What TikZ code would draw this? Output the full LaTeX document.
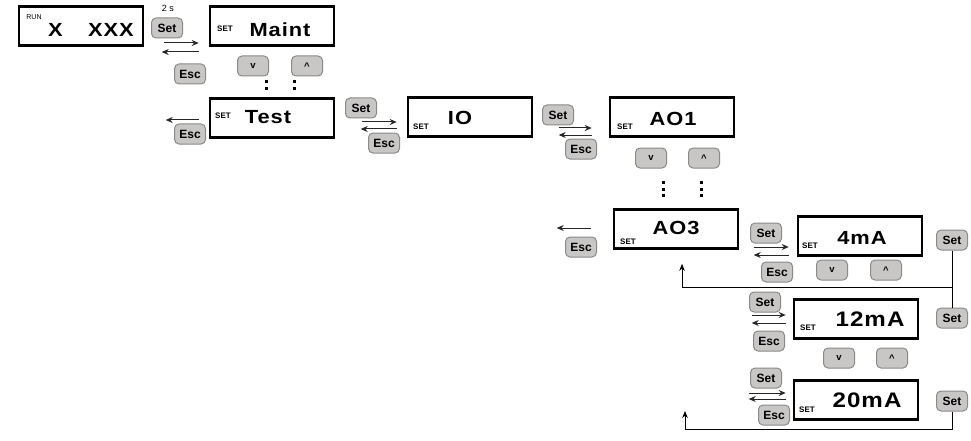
\documentclass[tikz,border=0pt]{standalone}
\usepackage{fontspec}
\setmainfont{Liberation Sans}
\newfontfamily\lcdfont[LetterSpace=5, FakeStretch=1.15]{Liberation Sans}
\usetikzlibrary{arrows.meta}
\definecolor{btnfill}{RGB}{201,198,198}
\definecolor{btnline}{RGB}{140,137,137}
\tikzset{
  lcd/.style={draw, line width=2.6pt, minimum width=124pt, minimum height=39pt, inner sep=0pt},
  lcdtxt/.style={font=\lcdfont\bfseries\fontsize{19}{19}\selectfont, inner sep=0pt},
  lcdbig/.style={font=\lcdfont\bfseries\fontsize{21}{21}\selectfont, inner sep=0pt},
  setlbl/.style={font=\bfseries\fontsize{8}{8}\selectfont, inner sep=0pt},
  btn/.style={draw=btnline, fill=btnfill, rounded corners=4.5pt, line width=1pt,
    minimum width=31pt, minimum height=20pt, inner sep=0pt, font=\bfseries\fontsize{12}{12}\selectfont},
  arr/.style={btn, font=\bfseries\fontsize{9.5}{9.5}\selectfont},
  mv/.style={-{Stealth[length=7pt,width=6pt]}, line width=1pt, black!85},
  ret/.style={-{Stealth[length=7pt,width=5.5pt]}, line width=0.8pt},
  dotcol/.style={line width=3pt, dash pattern=on 3pt off 3.5pt},
}
\begin{document}
\begin{tikzpicture}[x=1pt, y=-1pt]
  \useasboundingbox (0,0) rectangle (971,441);
  % displays
  \node[lcd] (run)   at (81,26)  {};
  \node[lcd] (maint) at (272,26) {};
  \node[lcd] (test)  at (272,118) {};
  \node[lcd] (io)    at (470,117) {};
  \node[lcd] (ao1)   at (672,117) {};
  \node[lcd] (ao3)   at (676,229) {};
  \node[lcd] (ma4)   at (860,236) {};
  \node[lcd] (ma12)  at (856,319) {};
  \node[lcd] (ma20)  at (856,400) {};
  % display texts
  \node[font=\fontsize{7}{7}\selectfont, inner sep=0pt] (runlbl) at (34,17) {RUN};
  \node[lcdtxt] (runx)   at (55.5,30) {X};
  \node[lcdtxt] (runxxx) at (111,30)  {XXX};
  \node[setlbl] (maintlbl) at (225,29)  {SET};
  \node[lcdtxt] (mainttxt) at (280,30)  {Maint};
  \node[setlbl] (testlbl)  at (223,116) {SET};
  \node[lcdtxt] (testtxt)  at (268,117) {Test};
  \node[setlbl] (iolbl)    at (421,127) {SET};
  \node[lcdtxt] (iotxt)    at (460,118) {IO};
  \node[setlbl] (ao1lbl)   at (625,127) {SET};
  \node[lcdtxt] (ao1txt)   at (673,119) {AO1};
  \node[setlbl] (ao3lbl)   at (628,242) {SET};
  \node[lcdtxt] (ao3txt)   at (676,228) {AO3};
  \node[setlbl] (ma4lbl)   at (810,246) {SET};
  \node[lcdtxt] (ma4txt)   at (862,238) {4mA};
  \node[setlbl] (ma12lbl)  at (808,328) {SET};
  \node[lcdbig] (ma12txt)  at (870,319) {12mA};
  \node[setlbl] (ma20lbl)  at (807,410) {SET};
  \node[lcdbig] (ma20txt)  at (867,400) {20mA};
  % keys
  \node[font=\fontsize{9}{9}\selectfont, inner sep=0pt] (hold) at (168,8) {2 s};
  \node[btn] (set0) at (167,28)  {Set};
  \node[btn] (esc0) at (190,74)  {Esc};
  \node[arr] (dn0)  at (253,66)  {v};
  \node[arr] (up0)  at (307,66)  {\char"5E};
  \node[btn] (esc1) at (190,134) {Esc};
  \node[btn] (set1) at (361,108) {Set};
  \node[btn] (esc2) at (384,143) {Esc};
  \node[btn] (set2) at (558,115) {Set};
  \node[btn] (esc3) at (581,149) {Esc};
  \node[arr] (dn1)  at (651,158) {v};
  \node[arr] (up1)  at (704,158) {\char"5E};
  \node[btn] (esc4) at (581,247) {Esc};
  \node[btn] (set3) at (766,233) {Set};
  \node[btn] (esc5) at (777,272) {Esc};
  \node[arr] (dn2)  at (832,270) {v};
  \node[arr] (up2)  at (886,270) {\char"5E};
  \node[btn] (set4) at (952,240) {Set};
  \node[btn] (set5) at (765,302) {Set};
  \node[btn] (esc6) at (769,341) {Esc};
  \node[btn] (set6) at (952,318) {Set};
  \node[arr] (dn3)  at (839,358) {v};
  \node[arr] (up3)  at (892,358) {\char"5E};
  \node[btn] (set7) at (766,378) {Set};
  \node[btn] (esc7) at (774,415) {Esc};
  \node[btn] (set8) at (952,401) {Set};
  % set / esc arrows
  \draw[mv] ([shift={(-45,17)}]maint.west) -- ([shift={(-10,17)}]maint.west);
  \draw[mv] ([shift={(-10,26)}]maint.west) -- ([shift={(-47,26)}]maint.west);
  \draw[mv] ([shift={(-10,2)}]test.west)   -- ([shift={(-43,2)}]test.west);
  \draw[mv] ([shift={(-45,5)}]io.west)     -- ([shift={(-10,5)}]io.west);
  \draw[mv] ([shift={(-10,12)}]io.west)    -- ([shift={(-46,12)}]io.west);
  \draw[mv] ([shift={(-50,11)}]ao1.west)   -- ([shift={(-17,11)}]ao1.west);
  \draw[mv] ([shift={(-17,18)}]ao1.west)   -- ([shift={(-50,18)}]ao1.west);
  \draw[mv] ([shift={(-22,-1)}]ao3.west)   -- ([shift={(-56,-1)}]ao3.west);
  \draw[mv] ([shift={(-43,11)}]ma4.west)   -- ([shift={(-8,11)}]ma4.west);
  \draw[mv] ([shift={(-8,19)}]ma4.west)    -- ([shift={(-43,19)}]ma4.west);
  \draw[mv] ([shift={(-41,-4)}]ma12.west)  -- ([shift={(-7,-4)}]ma12.west);
  \draw[mv] ([shift={(-7,4)}]ma12.west)    -- ([shift={(-41,4)}]ma12.west);
  \draw[mv] ([shift={(-44,-7)}]ma20.west)  -- ([shift={(-7,-7)}]ma20.west);
  \draw[mv] ([shift={(-7,-1)}]ma20.west)   -- ([shift={(-44,-1)}]ma20.west);
  % scrolling dots
  \draw[dotcol] ([shift={(-3,4)}]dn0.south east) -- ++(0,13);
  \draw[dotcol] ([shift={(3,4)}]up0.south west)  -- ++(0,13);
  \draw[dotcol] ([shift={(-3.5,12.5)}]dn1.south east) -- ++(0,19);
  \draw[dotcol] ([shift={(13.5,12.5)}]up1.south west) -- ++(0,19);
  % return lines
  \draw[line width=0.8pt] (set4.south) -- (set6.north);
  \draw[ret] (set4.south |- 0,287) -| ([shift={(6,14)}]ao3.south);
  \coordinate (back20) at (685,411);
  \draw[ret] (set8.south) -- ++(0,18) -| (back20);
\end{tikzpicture}
\end{document}
